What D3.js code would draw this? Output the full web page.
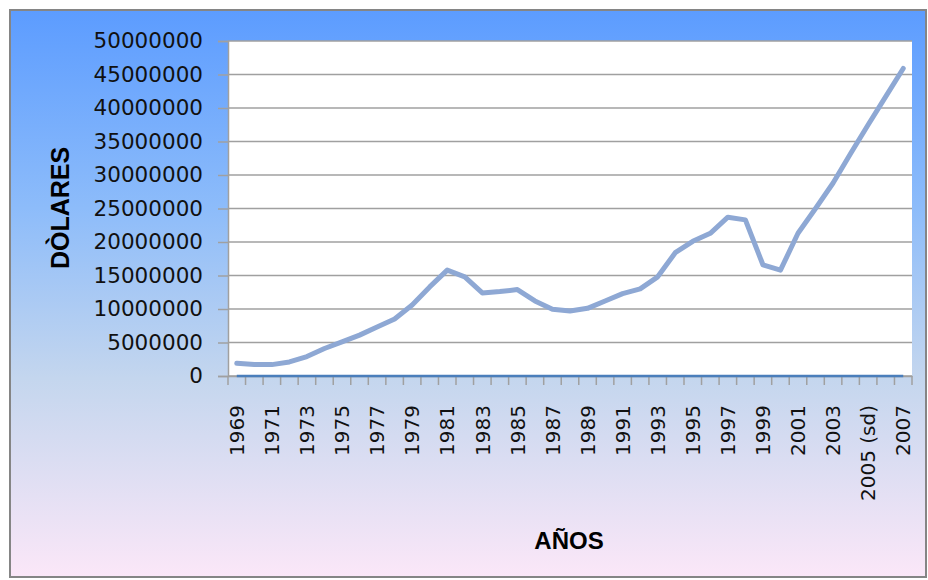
<!DOCTYPE html>
<html>
<head>
<meta charset="utf-8">
<script src="https://cdn.jsdelivr.net/npm/d3@7"></script>
<style>
  body { margin: 0; background: #fff; }
</style>
</head>
<body>
<div id="chart"></div>
<script>
// Data
const years = ["1969","1970","1971","1972","1973","1974","1975","1976","1977","1978",
  "1979","1980","1981","1982","1983","1984","1985","1986","1987","1988",
  "1989","1990","1991","1992","1993","1994","1995","1996","1997","1998",
  "1999","2000","2001","2002","2003","2004","2005 (sd)","2006","2007"]

const dolares = [1900000,1700000,1700000,2100000,2900000,4100000,5100000,6100000,7300000,8500000,
  10600000,13300000,15800000,14800000,12400000,12600000,12900000,11200000,9950000,9700000,
  10100000,11200000,12300000,13000000,14800000,18400000,20100000,21300000,23700000,23300000,
  16600000,15800000,21300000,25000000,28800000,33200000,37500000,41700000,45900000]

const ceros = years.map(() => 0)

const yTicks = [0,5000000,10000000,15000000,20000000,25000000,30000000,35000000,40000000,45000000,50000000]

// Dimensions
let dimensions = {
  width: 928,
  height: 580,
  left: 228,
  top: 41,
  right: 16,
  bottom: 204
}
dimensions.ctrWidth = dimensions.width - dimensions.left - dimensions.right
dimensions.ctrHeight = dimensions.height - dimensions.top - dimensions.bottom

// Draw Image
const svg = d3.select('#chart')
  .append("svg")
  .attr("width", dimensions.width)
  .attr("height", dimensions.height)

const defs = svg.append("defs")
const grad = defs.append("linearGradient")
  .attr("id", "bg")
  .attr("x1", 0).attr("y1", 0).attr("x2", 0).attr("y2", 1)
grad.append("stop").attr("offset", "0%").attr("stop-color", "#5c9cff")
grad.append("stop").attr("offset", "35%").attr("stop-color", "#8dbcfa")
grad.append("stop").attr("offset", "65%").attr("stop-color", "#c4d6ee")
grad.append("stop").attr("offset", "100%").attr("stop-color", "#fbe7f8")

svg.append("rect")
  .attr("x", 10).attr("y", 10)
  .attr("width", 916).attr("height", 567)
  .attr("fill", "url(#bg)")
  .attr("stroke", "#858585")
  .attr("stroke-width", 2)

const ctr = svg.append("g")
  .attr("transform", `translate(${dimensions.left}, ${dimensions.top})`)

ctr.append("rect")
  .attr("width", dimensions.ctrWidth)
  .attr("height", dimensions.ctrHeight)
  .attr("fill", "#fff")

// Scales
const xScale = d3.scaleBand()
  .domain(years)
  .range([0, dimensions.ctrWidth])

const yScale = d3.scaleLinear()
  .domain([0, 50000000])
  .range([dimensions.ctrHeight, 0])

// Grid
ctr.append("g")
  .selectAll("line")
  .data(yTicks)
  .join("line")
  .attr("x1", 0)
  .attr("x2", dimensions.ctrWidth)
  .attr("y1", d => yScale(d))
  .attr("y2", d => yScale(d))
  .attr("stroke", "#a0a0a0")
  .attr("stroke-width", 1.5)

// Y axis
const yAxis = d3.axisLeft(yScale)
  .tickValues(yTicks)
  .tickSize(10)
  .tickPadding(15)
  .tickFormat(d3.format("d"))

const yAxisGroup = ctr.append("g").call(yAxis)
yAxisGroup.select(".domain").attr("stroke", "#a0a0a0").attr("stroke-width", 1.5)
yAxisGroup.selectAll(".tick line").attr("stroke", "#a0a0a0").attr("stroke-width", 1.5)
yAxisGroup.selectAll(".tick text")
  .style("font-family", "DejaVu Sans")
  .style("font-size", "21.5px")
  .attr("fill", "#111")

// X axis
const xAxis = d3.axisBottom(xScale)
  .tickValues(years.filter((d, i) => i % 2 === 0))
  .tickSize(0)
  .tickPadding(0)

const xAxisGroup = ctr.append("g")
  .attr("transform", `translate(0, ${dimensions.ctrHeight})`)
  .call(xAxis)
xAxisGroup.select(".domain").attr("stroke", "#a0a0a0").attr("stroke-width", 1.5)
xAxisGroup.selectAll(".tick text")
  .attr("transform", "rotate(-90)")
  .attr("text-anchor", "end")
  .attr("x", -29)
  .attr("y", 0)
  .attr("dy", "0.36em")
  .style("font-family", "DejaVu Sans")
  .style("font-size", "20px")
  .attr("fill", "#111")

// x ticks between categories
xAxisGroup.append("g")
  .selectAll("line")
  .data(years.concat(["end"]))
  .join("line")
  .attr("x1", (d, i) => i * xScale.step())
  .attr("x2", (d, i) => i * xScale.step())
  .attr("y1", 0)
  .attr("y2", 9)
  .attr("stroke", "#a0a0a0")
  .attr("stroke-width", 1.5)

// Lines
const line = d3.line()
  .x((d, i) => xScale(years[i]) + xScale.bandwidth() / 2)
  .y(d => yScale(d))

ctr.append("path")
  .datum(ceros)
  .attr("d", line)
  .attr("fill", "none")
  .attr("stroke", "#4a7ebb")
  .attr("stroke-width", 2.5)

ctr.append("path")
  .datum(dolares)
  .attr("d", line)
  .attr("fill", "none")
  .attr("stroke", "#8ea8d4")
  .attr("stroke-width", 5)
  .attr("stroke-linejoin", "round")
  .attr("stroke-linecap", "round")

// Axis titles
svg.append("text")
  .attr("transform", "translate(69, 208) rotate(-90)")
  .attr("text-anchor", "middle")
  .style("font-family", "Liberation Sans")
  .style("font-weight", "bold")
  .style("font-size", "25px")
  .text("DÒLARES")

svg.append("text")
  .attr("x", 569)
  .attr("y", 549)
  .attr("text-anchor", "middle")
  .style("font-family", "Liberation Sans")
  .style("font-weight", "bold")
  .style("font-size", "24px")
  .text("AÑOS")
</script>
</body>
</html>
